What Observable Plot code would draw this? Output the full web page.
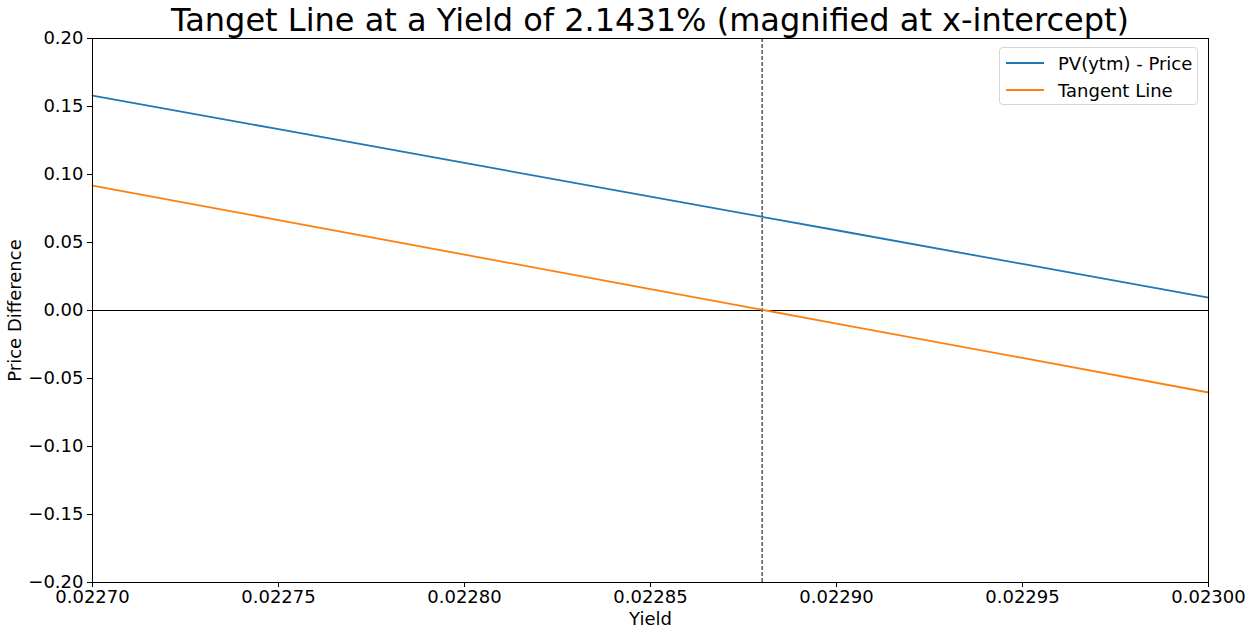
<!DOCTYPE html>
<html>
<head>
<meta charset="utf-8">
<script src="https://cdn.jsdelivr.net/npm/d3@7"></script>
<script src="https://cdn.jsdelivr.net/npm/@observablehq/plot@0.6"></script>
<style>
  html, body { margin: 0; padding: 0; background: #fff; }
  body { width: 1252px; height: 636px; overflow: hidden; font-family: "DejaVu Sans", sans-serif; }
  #wrap { position: relative; width: 1252px; }
  #title { height: 28px; overflow: visible; box-sizing: border-box; padding-left: 92px; padding-right: 44px; text-align: center; font-size: 32px; line-height: 40px; color: #000; white-space: nowrap; }
  #legend { position: absolute; left: 999px; top: 47px; width: 199px; height: 58px; border: 1px solid #d6d6d6; border-radius: 4px; background: rgba(255,255,255,0.8); box-sizing: border-box; font-size: 18px; }
  .item { position: absolute; left: 6px; height: 20px; display: flex; align-items: center; }
  .swatch { width: 38px; height: 0; border-top: 2px solid; margin-right: 14px; }
</style>
</head>
<body>
<div id="wrap">
  <div id="title">Tanget Line at a Yield of 2.1431% (magnified at x-intercept)</div>
  <div id="chart"></div>
  <div id="legend"></div>
</div>
<script>
const yields = [0.0227, 0.02275, 0.0228, 0.02285, 0.0229, 0.02295, 0.0230];
const pvMinusPrice = [0.1580, 0.1333, 0.1085, 0.0837, 0.0590, 0.0342, 0.0095];
const tangentLine = [0.0919, 0.0665, 0.0411, 0.0157, -0.0096, -0.0349, -0.0603];
const xIntercept = 0.022880;
const xTicks = [0.0227, 0.02275, 0.0228, 0.02285, 0.0229, 0.02295, 0.0230];
const yTicks = [-0.20, -0.15, -0.10, -0.05, 0.00, 0.05, 0.10, 0.15, 0.20];
const seriesNames = ["PV(ytm) - Price", "Tangent Line"];
const seriesColors = ["#1f77b4", "#ff7f0e"];

const rows = [];
yields.forEach((x, i) => {
  rows.push({x, y: pvMinusPrice[i], s: seriesNames[0]});
  rows.push({x, y: tangentLine[i], s: seriesNames[1]});
});

const chart = Plot.plot({
  width: 1252,
  height: 608,
  marginTop: 10,
  marginBottom: 54,
  marginLeft: 92,
  marginRight: 44,
  style: {fontFamily: "DejaVu Sans, sans-serif", fontSize: "18px", color: "#000", background: "#fff", overflow: "visible"},
  x: {domain: [0.0227, 0.0230]},
  y: {domain: [-0.2, 0.2]},
  color: {domain: seriesNames, range: seriesColors},
  marks: [
    Plot.ruleY([0], {stroke: "#000", strokeWidth: 1}),
    Plot.ruleX([xIntercept], {stroke: "#000", strokeWidth: 1, strokeDasharray: "4,2"}),
    Plot.line(rows, {x: "x", y: "y", z: "s", stroke: "s", strokeWidth: 1.8}),
    Plot.frame({stroke: "#000", strokeWidth: 1}),
    Plot.axisX({ticks: xTicks, tickFormat: d3.format(".5f"), tickSize: 5, tickPadding: 3, fontSize: 18,
      label: "Yield", labelAnchor: "center", labelArrow: "none", labelOffset: 42}),
    Plot.axisY({ticks: yTicks, tickFormat: d3.format(".2f"), tickSize: 5, tickPadding: 4, fontSize: 18,
      label: "Price Difference", labelAnchor: "center", labelArrow: "none", labelOffset: 84})
  ]
});
document.getElementById("chart").appendChild(chart);

const legend = document.getElementById("legend");
seriesNames.forEach((name, i) => {
  const it = document.createElement("div");
  it.className = "item";
  it.style.top = (5 + i * 27) + "px";
  const sw = document.createElement("div");
  sw.className = "swatch";
  sw.style.borderTopColor = seriesColors[i];
  const t = document.createElement("span");
  t.textContent = name;
  it.appendChild(sw); it.appendChild(t);
  legend.appendChild(it);
});
</script>
</body>
</html>
